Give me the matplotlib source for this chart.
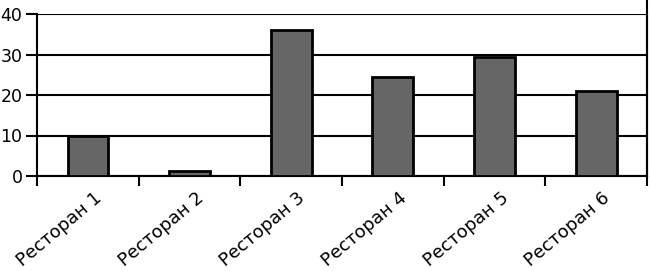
import matplotlib
matplotlib.use("Agg")
import matplotlib.pyplot as plt
from matplotlib.lines import Line2D
from matplotlib.transforms import ScaledTranslation

categories = ["Ресторан 1", "Ресторан 2", "Ресторан 3", "Ресторан 4", "Ресторан 5", "Ресторан 6"]
values = [10, 1.3, 36, 24.4, 29.5, 21]
yticks = [0, 10, 20, 30, 40]

plt.rcParams['font.family'] = ['DejaVu Sans']
fig = plt.figure(figsize=(6.5, 2.71), dpi=100)
ax = fig.add_axes([37/650, 1-176/271, (647-37)/650, (176-14)/271])

x = list(range(len(categories)))
ax.bar(x, values, width=0.4, color="#666666", edgecolor="black", linewidth=2, zorder=3)
ax.set_xlim(-0.5, len(categories)-0.5)
ax.set_ylim(0, 40)
ax.set_yticks(yticks)
ax.yaxis.grid(True, color="black", linewidth=1.5, zorder=0)
ax.set_axisbelow(True)

ax.set_xticks([i - 0.5 for i in range(len(categories)+1)])
ax.set_xticklabels([])
ax.set_xticks(x, minor=True)
ax.set_xticklabels(categories, minor=True, rotation=40, ha='right', rotation_mode='anchor', fontsize=13)
ax.tick_params(axis='x', which='major', length=7, width=1.5, direction='out')
ax.tick_params(axis='x', which='minor', length=0, pad=9)
ax.tick_params(axis='y', length=8, width=1.5, labelsize=12.5, pad=2.5)

offset = ScaledTranslation(6/100, 0, fig.dpi_scale_trans)
for lab in ax.get_xticklabels(minor=True):
    lab.set_transform(lab.get_transform() + offset)

ax.spines['top'].set_visible(False)
for s in ['left', 'bottom', 'right']:
    ax.spines[s].set_linewidth(1.5)

fig.add_artist(Line2D([647/650, 647/650], [1-176/271, 1.0], color='black', linewidth=1.5, transform=fig.transFigure))

fig.savefig("out.png", dpi=100, facecolor="white")
